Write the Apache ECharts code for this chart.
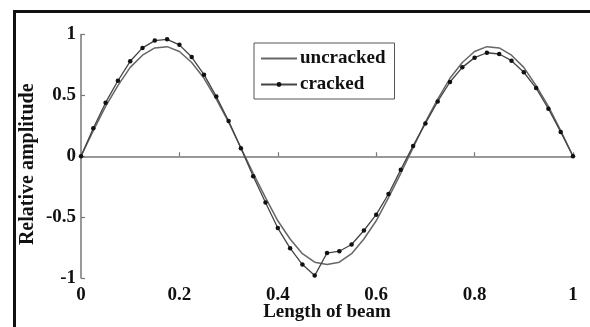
<!DOCTYPE html>
<html><head><meta charset="utf-8">
<script src="https://cdn.jsdelivr.net/npm/echarts@6/dist/echarts.min.js"></script>
<style>html,body{margin:0;padding:0;background:#fff}#c{width:590px;height:327px}</style>
</head><body><div id="c"></div>
<script>
const xs = [0,0.025,0.05,0.075,0.1,0.125,0.15,0.175,0.2,0.225,0.25,0.275,0.3,0.325,0.35,0.375,0.4,0.425,0.45,0.475,0.5,0.525,0.55,0.575,0.6,0.625,0.65,0.675,0.7,0.725,0.75,0.775,0.8,0.825,0.85,0.875,0.9,0.925,0.95,0.975,1];
const uncracked = [0,0.21,0.41,0.58,0.73,0.83,0.89,0.9,0.86,0.77,0.64,0.47,0.28,0.07,-0.14,-0.34,-0.53,-0.68,-0.8,-0.87,-0.89,-0.87,-0.8,-0.68,-0.53,-0.34,-0.14,0.07,0.28,0.47,0.64,0.77,0.86,0.9,0.89,0.83,0.73,0.58,0.41,0.21,0];
const cracked = [0,0.23,0.44,0.62,0.78,0.89,0.95,0.96,0.915,0.815,0.67,0.49,0.29,0.065,-0.165,-0.38,-0.59,-0.755,-0.89,-0.98,-0.795,-0.78,-0.725,-0.61,-0.48,-0.31,-0.11,0.085,0.27,0.45,0.61,0.73,0.81,0.85,0.84,0.785,0.69,0.56,0.39,0.2,0];
const xTicks = [0,0.2,0.4,0.6,0.8,1];
const yTicks = [-1,-0.5,0,0.5,1];
const seriesNames = ['uncracked','cracked'];
const xName = 'Length of beam';
const yName = 'Relative amplitude';

const font = 'Liberation Serif';
const chart = echarts.init(document.getElementById('c'), null, {renderer:'canvas'});
const pair = arr => xs.map((x,i)=>[x,arr[i]]);
chart.setOption({
  animation:false,
  backgroundColor:'#fff',
  grid:{left:81,right:17,top:34.5,bottom:48,containLabel:false},
  xAxis:{type:'value',min:0,max:1,interval:0.2,
    name:xName,nameLocation:'middle',nameGap:25,nameMoveOverlap:false,
    nameTextStyle:{fontFamily:font,fontWeight:'bold',fontSize:19,color:'#111'},
    axisLine:{show:true,lineStyle:{color:'#777',width:1.5}},
    axisTick:{show:true,inside:true,length:4,lineStyle:{color:'#777',width:1.2}},
    axisLabel:{margin:8,fontFamily:font,fontWeight:'bold',fontSize:19,color:'#111',
      formatter:v=>xTicks.includes(Math.round(v*10)/10)?String(Math.round(v*10)/10):''},
    splitLine:{show:false}},
  yAxis:{type:'value',min:-1,max:1,interval:0.5,
    name:yName,nameLocation:'middle',nameGap:43,nameMoveOverlap:false,
    nameTextStyle:{fontFamily:font,fontWeight:'bold',fontSize:20,color:'#111',padding:[0,16,0,0]},
    axisLine:{show:true,lineStyle:{color:'#777',width:1.5}},
    axisTick:{show:true,inside:true,length:4,lineStyle:{color:'#777',width:1.2}},
    axisLabel:{margin:5,fontFamily:font,fontWeight:'bold',fontSize:19,color:'#111',
      formatter:v=>yTicks.includes(v)?String(v):''},
    splitLine:{show:false}},
  legend:{orient:'vertical',left:254,top:43,itemWidth:36,itemHeight:6,itemGap:7,
    padding:[6,9,5,6],borderColor:'#555',borderWidth:1,backgroundColor:'#fff',
    textStyle:{fontFamily:font,fontWeight:'bold',fontSize:19,color:'#111',padding:[0,0,0,-2]},
    data:[{name:seriesNames[0],itemStyle:{color:'rgba(0,0,0,0)',borderWidth:0}},
          {name:seriesNames[1]}]},
  graphic:[
    {type:'line',shape:{x1:13,y1:11.5,x2:590,y2:11.5},style:{stroke:'#111',lineWidth:3}},
    {type:'line',shape:{x1:14.5,y1:10,x2:14.5,y2:327},style:{stroke:'#111',lineWidth:3}}
  ],
  series:[
    {name:seriesNames[0],type:'line',data:pair(uncracked),showSymbol:false,symbol:'none',
      lineStyle:{color:'#666',width:1.5},itemStyle:{color:'#666'}},
    {name:seriesNames[1],type:'line',data:pair(cracked),symbol:'circle',symbolSize:4.5,
      lineStyle:{color:'#444',width:1.3},itemStyle:{color:'#111'}}
  ]
});
</script></body></html>
